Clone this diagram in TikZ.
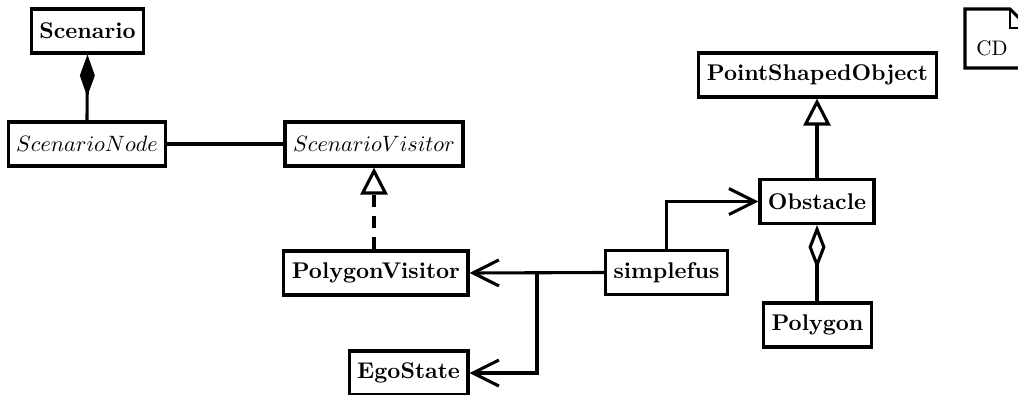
\documentclass[tikz,border=0pt]{standalone}
\usepackage{graphicx}
\usetikzlibrary{arrows.meta}
\newcommand{\cbxlabel}[1]{\scalebox{2.27}{\bfseries #1}}
\newcommand{\cbilabel}[1]{\scalebox{2.22}{$#1$}}
\begin{document}
\begin{tikzpicture}[x=1pt,y=-1pt,line width=3.1pt,
  cls/.style={draw, line width=3.1pt, inner xsep=8pt, inner ysep=0pt, minimum height=44pt},
  barb/.tip={Straight Barb[length=26pt,width=26pt,line width=3.1pt]},
  inh/.tip={Triangle[open,length=27pt,width=27pt,line width=3.1pt]},
  comp/.tip={Diamond[length=42pt,width=15pt]},
  aggr/.tip={Diamond[open,length=44pt,width=17pt,line width=3.1pt]},
  dashline/.style={dash pattern=on 12pt off 9pt}]
\clip (0,0) rectangle (1018,394);
\useasboundingbox (0,0) rectangle (1018,394);

\node[cls] (scenario) at (87.5,31) {\cbxlabel{Scenario}};
\node[cls] (snode) at (87,144) {\cbilabel{ScenarioNode}};
\node[cls] (svisitor) at (374,144) {\cbilabel{ScenarioVisitor}};
\node[cls, anchor=east] (pvisitor) at (469.5,273) {\cbxlabel{PolygonVisitor}};
\node[cls, anchor=east] (ego) at (469.5,373) {\cbxlabel{EgoState}};
\node[cls] (simplefus) at (666.5,272.5) {\cbxlabel{simplefus}};
\node[cls] (pso) at (817.5,75) {\cbxlabel{PointShapedObject}};
\node[cls] (obstacle) at (817,201.5) {\cbxlabel{Obstacle}};
\node[cls] (polygon) at (817.5,325) {\cbxlabel{Polygon}};
\node (cd) at (992,48) {\scalebox{2.1}{CD}};
\coordinate (br) at (537,273);

% CD note shape
\draw[line width=3.1pt] (965,68) -- (965,9) -- (1010,9) -- (1029,28) -- (1029,68) -- cycle;
\draw[line width=1.5pt] (1010,9) -- (1010,28) -- (1029,28);

\draw[{comp}-] (scenario.south) -- (snode.north);
\draw (snode.east) -- (svisitor.west);
\draw[dashline,-{inh}] (svisitor.south |- pvisitor.north) -- (svisitor.south);
\draw[-{barb}] (simplefus.west) -- (pvisitor.east);
\draw[-{barb}] (br) |- (ego.east);
\draw[-{barb}] (simplefus.north) |- (obstacle.west);
\draw[-{inh}] (obstacle.north) -- (obstacle.north |- pso.south);
\draw[{aggr}-] (obstacle.south) -- (obstacle.south |- polygon.north);
\end{tikzpicture}
\end{document}
